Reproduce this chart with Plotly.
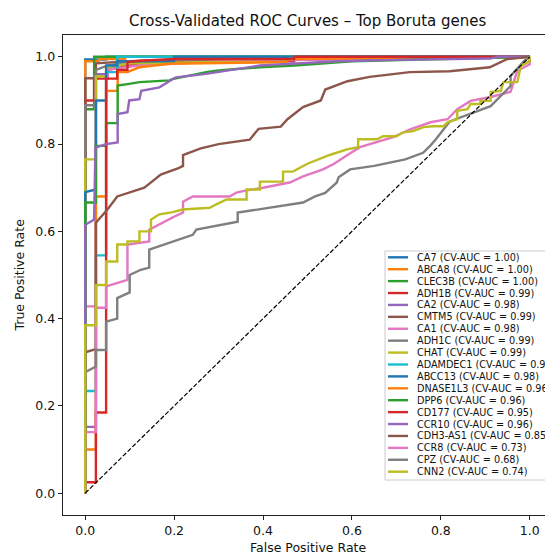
import plotly.graph_objects as go

# ---------------- data ----------------
genes = ["CA7", "ABCA8", "CLEC3B", "ADH1B", "CA2", "CMTM5", "CA1", "ADH1C", "CHAT",
         "ADAMDEC1", "ABCC13", "DNASE1L3", "DPP6", "CD177", "CCR10", "CDH3-AS1",
         "CCR8", "CPZ", "CNN2"]
cv_auc = ["1.00", "1.00", "1.00", "0.99", "0.98", "0.99", "0.98", "0.99", "0.99",
          "0.97", "0.98", "0.96", "0.96", "0.95", "0.96", "0.85", "0.73", "0.68", "0.74"]
colors = ["#1f77b4", "#ff7f0e", "#2ca02c", "#d62728", "#9467bd", "#8c564b", "#e377c2",
          "#7f7f7f", "#bcbd22", "#17becf", "#1f77b4", "#ff7f0e", "#2ca02c", "#d62728",
          "#9467bd", "#8c564b", "#e377c2", "#7f7f7f", "#bcbd22"]

fpr_CA7 = [0, 0, 0.047, 0.047, 1]
tpr_CA7 = [0, 0.994, 0.994, 1, 1]
fpr_ABCA8 = [0, 0, 0.03, 0.03, 0.09, 0.09, 1]
tpr_ABCA8 = [0, 0.99, 0.99, 0.995, 0.995, 1, 1]
fpr_CLEC3B = [0, 0, 0.02, 0.02, 1]
tpr_CLEC3B = [0, 0.88, 0.88, 1, 1]
fpr_ADH1B = [0, 0, 0.02, 0.02, 0.05, 0.05, 0.1, 0.2, 0.47, 0.47, 1]
tpr_ADH1B = [0, 0.9, 0.9, 0.95, 0.95, 0.97, 0.98, 0.99, 0.99, 1, 1]
fpr_CA2 = [0, 0, 0.024, 0.024, 0.05, 0.05, 0.1, 0.3, 0.6, 1]
tpr_CA2 = [0, 0.152, 0.152, 0.96, 0.96, 0.975, 0.985, 0.99, 0.995, 1]
fpr_CMTM5 = [0, 0, 0.024, 0.024, 0.1, 0.3, 0.6, 1]
tpr_CMTM5 = [0, 0.951, 0.951, 0.985, 0.99, 0.993, 0.997, 1]
fpr_CA1 = [0, 0, 0.024, 0.024, 0.05, 0.05, 0.12, 0.3, 0.6, 1]
tpr_CA1 = [0, 0.428, 0.428, 0.955, 0.955, 0.97, 0.98, 0.99, 0.995, 1]
fpr_ADH1C = [0, 0, 0.024, 0.024, 0.05, 0.1, 0.3, 0.6, 1]
tpr_ADH1C = [0, 0.889, 0.889, 0.97, 0.98, 0.99, 0.995, 0.998, 1]
fpr_CHAT = [0, 0, 0.024, 0.024, 0.047, 0.047, 0.1, 0.3, 0.45, 0.45, 1]
tpr_CHAT = [0, 0.765, 0.765, 0.955, 0.955, 0.975, 0.985, 0.988, 0.988, 1, 1]
fpr_ADAMDEC1 = [0, 0, 0.024, 0.024, 0.047, 0.047, 0.072, 0.072, 1]
tpr_ADAMDEC1 = [0, 0.234, 0.234, 0.545, 0.545, 0.965, 0.965, 1, 1]
fpr_ABCC13 = [0, 0, 0.024, 0.024, 0.047, 0.047, 0.072, 0.072, 0.2, 0.2, 1]
tpr_ABCC13 = [0, 0.69, 0.696, 0.9, 0.9, 0.98, 0.98, 0.99, 0.99, 1, 1]
fpr_DNASE1L3 = [0, 0, 0.024, 0.024, 0.047, 0.047, 0.073, 0.073, 0.095, 0.122, 0.19, 0.45, 0.46, 1]
tpr_DNASE1L3 = [0, 0.1, 0.1, 0.68, 0.68, 0.922, 0.922, 0.965, 0.965, 0.976, 0.984, 0.988, 0.995, 1]
fpr_DPP6 = [0, 0, 0.024, 0.024, 0.047, 0.047, 0.073, 0.073, 0.099, 0.122, 0.19, 0.196,
            0.272, 0.295, 0.34, 0.393, 0.47, 0.6, 1]
tpr_DPP6 = [0, 0.666, 0.666, 0.796, 0.796, 0.848, 0.848, 0.934, 0.938, 0.942, 0.946, 0.949,
            0.965, 0.968, 0.972, 0.976, 0.98, 0.99, 1]
fpr_CD177 = [0, 0, 0.024, 0.024, 0.047, 0.047, 0.072, 0.072, 0.095, 0.095, 0.122, 0.2, 0.47, 0.47, 1]
tpr_CD177 = [0, 0.025, 0.025, 0.185, 0.185, 0.95, 0.95, 0.97, 0.97, 0.988, 0.991, 0.995, 0.995, 1, 1]
fpr_CCR10 = [0, 0, 0.02, 0.023, 0.047, 0.073, 0.073, 0.095, 0.099, 0.122, 0.126, 0.152, 0.167,
             0.197, 0.204, 0.272, 0.34, 0.393, 0.567, 0.7, 0.91, 0.93, 1]
tpr_CCR10 = [0, 0.615, 0.627, 0.792, 0.8, 0.804, 0.869, 0.873, 0.9, 0.903, 0.922, 0.926, 0.93,
             0.949, 0.953, 0.961, 0.972, 0.98, 0.99, 0.993, 0.996, 1, 1]
fpr_CDH3AS1 = [0, 0, 0.024, 0.024, 0.05, 0.072, 0.133, 0.17, 0.21, 0.22, 0.22, 0.26, 0.3, 0.37,
               0.39, 0.44, 0.455, 0.49, 0.53, 0.54, 0.59, 0.64, 0.73, 0.82, 0.91, 0.95, 1]
tpr_CDH3AS1 = [0, 0.323, 0.33, 0.62, 0.65, 0.68, 0.70, 0.73, 0.745, 0.75, 0.775, 0.79, 0.80, 0.81,
               0.835, 0.84, 0.857, 0.885, 0.9, 0.925, 0.944, 0.954, 0.965, 0.967, 0.976, 0.995, 1]
fpr_CCR8 = [0, 0, 0.024, 0.024, 0.047, 0.047, 0.095, 0.095, 0.144, 0.144, 0.197, 0.22, 0.22,
            0.242, 0.325, 0.34, 0.363, 0.4, 0.46, 0.49, 0.535, 0.56, 0.59, 0.618, 0.693, 0.731,
            0.777, 0.815, 0.837, 0.867, 0.912, 0.957, 0.972, 1.0, 1.0]
tpr_CCR8 = [0, 0.14, 0.14, 0.425, 0.425, 0.474, 0.489, 0.57, 0.577, 0.604, 0.632, 0.643, 0.668,
            0.68, 0.68, 0.689, 0.694, 0.70, 0.712, 0.726, 0.742, 0.755, 0.775, 0.793, 0.816, 0.834,
            0.85, 0.857, 0.88, 0.899, 0.908, 0.92, 0.968, 0.983, 1.0]
fpr_CPZ = [0, 0, 0.024, 0.024, 0.047, 0.047, 0.072, 0.072, 0.1, 0.1, 0.125, 0.144, 0.144, 0.242,
           0.25, 0.343, 0.343, 0.415, 0.49, 0.517, 0.54, 0.566, 0.57, 0.596, 0.65, 0.72, 0.76,
           0.777, 0.788, 0.82, 0.84, 0.912, 0.957, 0.957, 0.987, 1.0]
tpr_CPZ = [0, 0.277, 0.29, 0.328, 0.328, 0.393, 0.40, 0.447, 0.46, 0.50, 0.512, 0.517, 0.558,
           0.592, 0.604, 0.622, 0.643, 0.655, 0.666, 0.68, 0.688, 0.712, 0.724, 0.742, 0.75,
           0.765, 0.78, 0.797, 0.81, 0.852, 0.86, 0.887, 0.933, 0.956, 0.99, 1.0]
fpr_CNN2 = [0, 0, 0.024, 0.024, 0.047, 0.047, 0.072, 0.072, 0.095, 0.095, 0.122, 0.122, 0.148,
            0.148, 0.167, 0.197, 0.219, 0.28, 0.295, 0.318, 0.363, 0.363, 0.393, 0.393, 0.445,
            0.445, 0.467, 0.5, 0.55, 0.589, 0.614, 0.614, 0.657, 0.67, 0.70, 0.716, 0.738,
            0.761, 0.783, 0.806, 0.815, 0.837, 0.837, 0.86, 0.867, 0.889, 0.889, 0.912, 0.912,
            0.935, 0.941, 0.972, 0.98, 1.0, 1.0]
tpr_CNN2 = [0, 0.385, 0.385, 0.477, 0.477, 0.531, 0.531, 0.57, 0.57, 0.577, 0.577, 0.60, 0.60,
            0.627, 0.639, 0.644, 0.65, 0.654, 0.662, 0.673, 0.673, 0.696, 0.696, 0.714, 0.714,
            0.737, 0.737, 0.755, 0.775, 0.788, 0.793, 0.811, 0.811, 0.818, 0.818, 0.827, 0.83,
            0.839, 0.841, 0.841, 0.85, 0.857, 0.876, 0.88, 0.892, 0.892, 0.899, 0.899, 0.919,
            0.922, 0.942, 0.942, 0.979, 0.99, 1.0]

fprs = [fpr_CA7, fpr_ABCA8, fpr_CLEC3B, fpr_ADH1B, fpr_CA2, fpr_CMTM5, fpr_CA1, fpr_ADH1C,
        fpr_CHAT, fpr_ADAMDEC1, fpr_ABCC13, fpr_DNASE1L3, fpr_DPP6, fpr_CD177, fpr_CCR10,
        fpr_CDH3AS1, fpr_CCR8, fpr_CPZ, fpr_CNN2]
tprs = [tpr_CA7, tpr_ABCA8, tpr_CLEC3B, tpr_ADH1B, tpr_CA2, tpr_CMTM5, tpr_CA1, tpr_ADH1C,
        tpr_CHAT, tpr_ADAMDEC1, tpr_ABCC13, tpr_DNASE1L3, tpr_DPP6, tpr_CD177, tpr_CCR10,
        tpr_CDH3AS1, tpr_CCR8, tpr_CPZ, tpr_CNN2]

tick_vals = [0.0, 0.2, 0.4, 0.6, 0.8, 1.0]
tick_text = ["0.0", "0.2", "0.4", "0.6", "0.8", "1.0"]

# ---------------- layout geometry (pixels) ----------------
W, H = 545, 553
L, R, T, B = 63, 0, 35, 38
PW, PH = W - L - R, H - T - B
FONT = "DejaVu Sans"


def px(x):
    return (x - L) / PW


def py(y):
    return (H - B - y) / PH


fig = go.Figure()
for name, auc, c, fx, ty in zip(genes, cv_auc, colors, fprs, tprs):
    fig.add_trace(go.Scatter(x=fx, y=ty, mode="lines", name=f"{name} (CV-AUC = {auc})",
                             line=dict(color=c, width=2.4), showlegend=False,
                             hoverinfo="skip"))
fig.add_trace(go.Scatter(x=[0, 1], y=[0, 1], mode="lines",
                         line=dict(color="black", width=1.2, dash="4.6px,2px"),
                         showlegend=False, hoverinfo="skip"))

shapes = []
annotations = []

# legend frame (the right side is cut by the image edge, as in the reference)
leg_left, leg_top, leg_bot = 385, 251, 480
shapes.append(dict(type="rect", xref="paper", yref="paper", x0=px(leg_left), x1=px(560),
                   y0=py(leg_bot), y1=py(leg_top), fillcolor="rgba(255,255,255,0.8)",
                   line=dict(color="#cccccc", width=1), layer="above"))
row0, drow = 257.3, 11.91
for i, (name, auc, c) in enumerate(zip(genes, cv_auc, colors)):
    yy = row0 + i * drow
    shapes.append(dict(type="line", xref="paper", yref="paper", x0=px(388), x1=px(408),
                       y0=py(yy), y1=py(yy), line=dict(color=c, width=2.4), layer="above"))
    annotations.append(dict(text=f"{name} (CV-AUC = {auc})", xref="paper", yref="paper",
                            x=px(414.5), y=py(yy), xanchor="left", yanchor="middle",
                            showarrow=False, font=dict(family=FONT, size=9.7, color="#111")))

annotations.append(dict(text="Cross-Validated ROC Curves \u2013 Top Boruta genes", xref="paper",
                        yref="paper", x=px(307.5), y=py(21), xanchor="center", yanchor="middle",
                        showarrow=False, font=dict(family=FONT, size=15, color="#111")))
annotations.append(dict(text="False Positive Rate", xref="paper", yref="paper", x=px(307.5),
                        y=py(547), xanchor="center", yanchor="middle", showarrow=False,
                        font=dict(family=FONT, size=12.5, color="#111")))
annotations.append(dict(text="True Positive Rate", xref="paper", yref="paper", x=px(18.5),
                        y=py(275), xanchor="center", yanchor="middle", textangle=-90,
                        showarrow=False, font=dict(family=FONT, size=12.5, color="#111")))

axis_common = dict(showgrid=False, zeroline=False, showline=True, linecolor="#222",
                   linewidth=1, ticks="outside", ticklen=4.4, tickwidth=1, tickcolor="#222",
                   tickvals=tick_vals, ticktext=tick_text, automargin=False,
                   tickfont=dict(family=FONT, size=12.5, color="#111"))

fig.update_layout(
    width=W, height=H, margin=dict(l=L, r=R, t=T, b=B, pad=0),
    paper_bgcolor="white", plot_bgcolor="white",
    xaxis=dict(range=[-0.05, -0.05 + PW / 444.5], mirror=True, **axis_common),
    yaxis=dict(range=[-0.05, 1.05], **axis_common),
    shapes=shapes, annotations=annotations, showlegend=False,
)

fig.write_html("out.html", config={"displayModeBar": False, "staticPlot": True})

# remove the browser's default page margin so the figure sits at the top-left corner
with open("out.html", "r", encoding="utf-8") as f:
    html = f.read()
html = html.replace("<head>", "<head><style>html,body{margin:0;padding:0;overflow:hidden;}</style>", 1)
with open("out.html", "w", encoding="utf-8") as f:
    f.write(html)
